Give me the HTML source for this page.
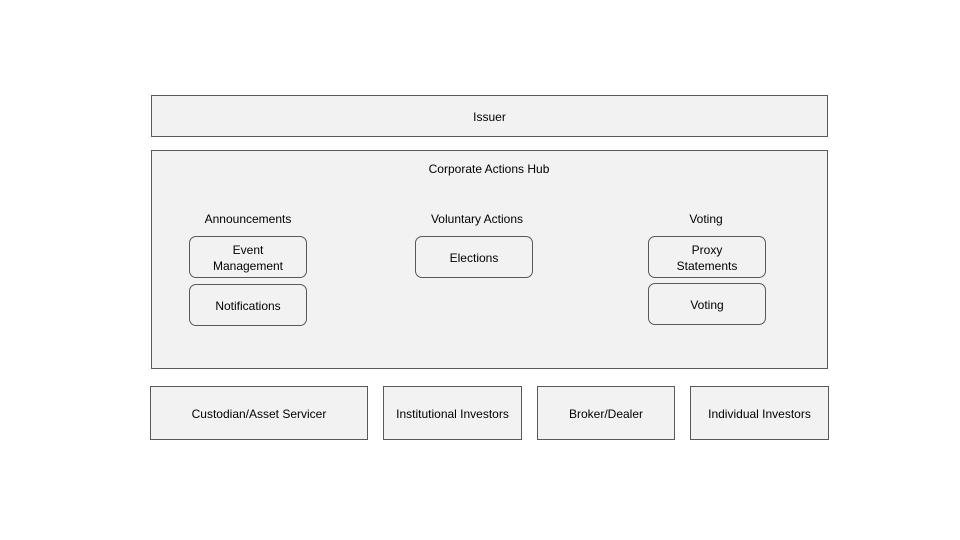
<!DOCTYPE html>
<html><head><style>
body{margin:0;width:960px;height:540px;background:#fff;position:relative;font-family:"Liberation Sans",sans-serif;font-size:12px;color:#000;overflow:hidden}
.b{position:absolute;box-sizing:border-box;border:1px solid #595959;background:#f2f2f2;display:flex;align-items:center;justify-content:center;text-align:center;line-height:16px;padding-top:2px}
.r{border-radius:7px}
.t{position:absolute;transform:translate(-50%,-50%);white-space:nowrap}
</style></head><body>
<div class="b" style="left:151px;top:95px;width:677px;height:42px">Issuer</div>
<div class="b" style="left:151px;top:150px;width:677px;height:219px"></div>
<div class="t" style="left:489px;top:169px">Corporate Actions Hub</div>
<div class="t" style="left:248px;top:219px">Announcements</div>
<div class="t" style="left:477px;top:219px">Voluntary Actions</div>
<div class="t" style="left:706px;top:219px">Voting</div>
<div class="b r" style="left:189px;top:236px;width:118px;height:42px">Event<br>Management</div>
<div class="b r" style="left:189px;top:284px;width:118px;height:42px">Notifications</div>
<div class="b r" style="left:415px;top:236px;width:118px;height:42px">Elections</div>
<div class="b r" style="left:648px;top:236px;width:118px;height:42px">Proxy<br>Statements</div>
<div class="b r" style="left:648px;top:283px;width:118px;height:42px">Voting</div>
<div class="b" style="left:150px;top:386px;width:218px;height:54px">Custodian/Asset Servicer</div>
<div class="b" style="left:383px;top:386px;width:139px;height:54px">Institutional Investors</div>
<div class="b" style="left:537px;top:386px;width:138px;height:54px">Broker/Dealer</div>
<div class="b" style="left:690px;top:386px;width:139px;height:54px">Individual Investors</div>
</body></html>
